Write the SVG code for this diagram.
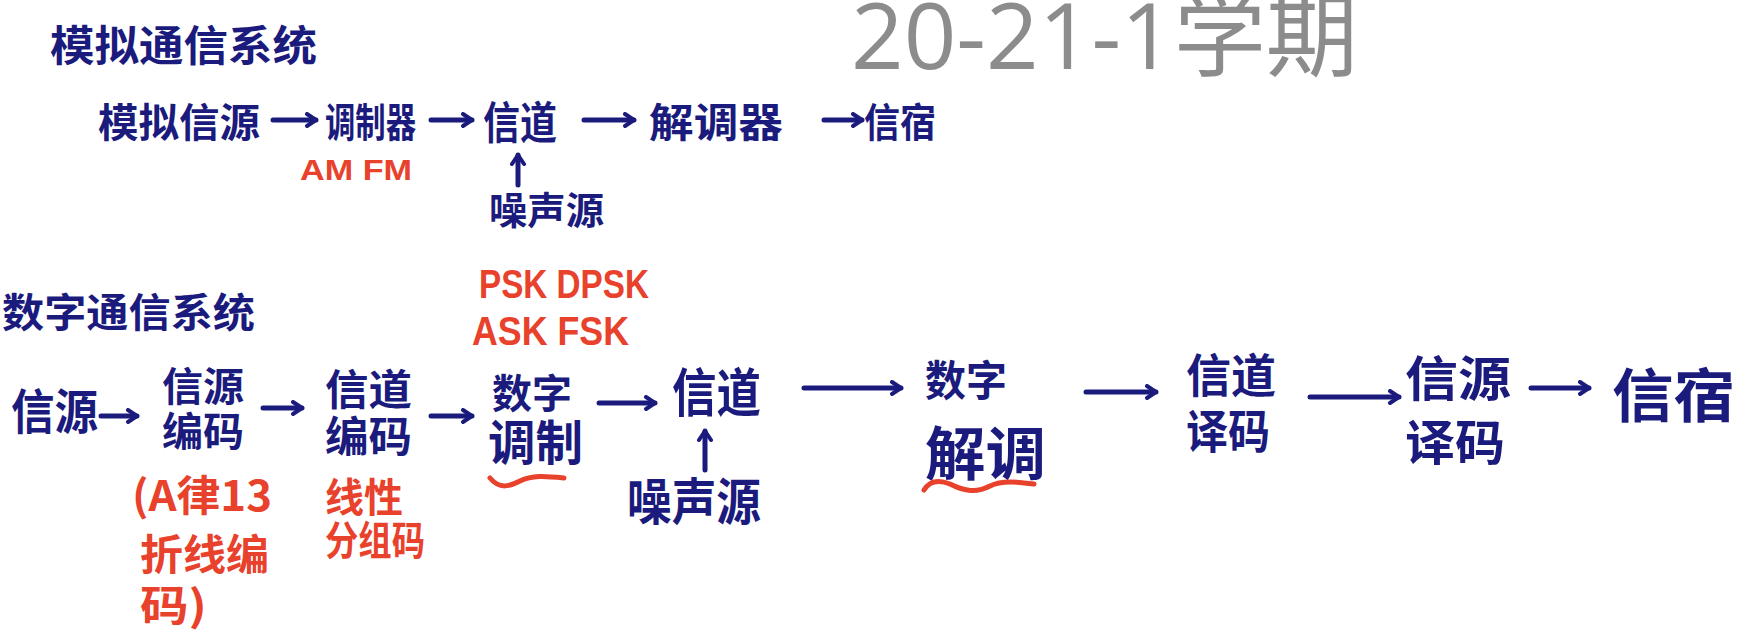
<svg xmlns="http://www.w3.org/2000/svg" width="1755" height="635" viewBox="0 0 1755 635">
<style>
.n{font-family:"Noto Sans CJK SC","Noto Sans CJK TC",sans-serif;font-weight:700;fill:#1b1b7d}
.r{font-family:"Noto Sans CJK SC","Noto Sans CJK TC",sans-serif;font-weight:700;fill:#e8412c}
.rl{font-family:"Liberation Sans","Noto Sans",sans-serif;font-weight:700;fill:#e8412c}
.t{font-family:"Open Sans","Noto Sans CJK SC",sans-serif;fill:#8c8c8c}
.c{stroke:#1b1b7d;stroke-width:5;fill:none;stroke-linecap:round}
.w{stroke:#e8412c;stroke-width:5;fill:none;stroke-linecap:round}
</style>
<defs>
<marker id="ah" markerUnits="userSpaceOnUse" viewBox="0 0 16 16" markerWidth="16" markerHeight="16" refX="13" refY="8" orient="auto">
<path d="M4,2 L13,8 L4,14" fill="none" stroke="#1b1b7d" stroke-width="4" stroke-linecap="round" stroke-linejoin="round"/>
</marker>
</defs>
<rect width="1755" height="635" fill="#ffffff"/>
<g id="title"><text class="t" x="851" y="69" font-size="92" textLength="507" lengthAdjust="spacingAndGlyphs">20-21-1学期</text></g>

<g id="analog-heading"><text class="n" x="50" y="61" font-size="42" textLength="267" lengthAdjust="spacingAndGlyphs">模拟通信系统</text></g>
<g id="a-src"><text class="n" x="98" y="137" font-size="40" textLength="162" lengthAdjust="spacingAndGlyphs">模拟信源</text></g>
<g id="a-mod"><text class="n" x="325" y="137" font-size="40" textLength="91" lengthAdjust="spacingAndGlyphs">调制器</text>
<text class="rl" x="300" y="180" font-size="30" textLength="112" lengthAdjust="spacingAndGlyphs">AM FM</text></g>
<g id="a-ch"><text class="n" x="483" y="139" font-size="44" textLength="74" lengthAdjust="spacingAndGlyphs">信道</text></g>
<g id="a-demod"><text class="n" x="649" y="137" font-size="40" textLength="134" lengthAdjust="spacingAndGlyphs">解调器</text></g>
<g id="a-sink"><text class="n" x="864" y="137" font-size="40" textLength="72" lengthAdjust="spacingAndGlyphs">信宿</text></g>
<g id="a-noise"><text class="n" x="489" y="224" font-size="38" textLength="115" lengthAdjust="spacingAndGlyphs">噪声源</text></g>

<g id="mod-notes">
<text class="rl" font-size="40"><tspan x="479" y="298" textLength="170" lengthAdjust="spacingAndGlyphs">PSK DPSK</tspan><tspan x="472" y="345" textLength="157" lengthAdjust="spacingAndGlyphs">ASK FSK</tspan></text>
</g>

<g id="digital-heading"><text class="n" x="2" y="327" font-size="40" textLength="253" lengthAdjust="spacingAndGlyphs">数字通信系统</text></g>
<g id="d-src"><text class="n" x="11" y="429" font-size="48" textLength="87" lengthAdjust="spacingAndGlyphs">信源</text></g>
<g id="d-srcenc"><text class="n" font-size="40"><tspan x="162" y="401" textLength="82" lengthAdjust="spacingAndGlyphs">信源</tspan><tspan x="162" y="446" textLength="82" lengthAdjust="spacingAndGlyphs">编码</tspan></text>
<text class="r" font-size="42"><tspan x="132" y="511" textLength="140" lengthAdjust="spacingAndGlyphs">(A律13</tspan><tspan x="140" y="570" textLength="129" lengthAdjust="spacingAndGlyphs">折线编</tspan><tspan x="140" y="621" textLength="67" lengthAdjust="spacingAndGlyphs">码)</tspan></text></g>
<g id="d-chenc"><text class="n" font-size="42"><tspan x="325" y="405" textLength="87" lengthAdjust="spacingAndGlyphs">信道</tspan><tspan x="325" y="452" textLength="87" lengthAdjust="spacingAndGlyphs">编码</tspan></text>
<text class="r" font-size="40"><tspan x="325" y="512" textLength="78" lengthAdjust="spacingAndGlyphs">线性</tspan><tspan x="325" y="555" textLength="100" lengthAdjust="spacingAndGlyphs">分组码</tspan></text></g>
<g id="d-mod"><text class="n" font-size="44"><tspan x="492" y="408" font-size="40" textLength="80" lengthAdjust="spacingAndGlyphs">数字</tspan><tspan x="488" y="460" font-size="48" textLength="95" lengthAdjust="spacingAndGlyphs">调制</tspan></text>
<path class="w" d="M490,478 C500,490 510,486 520,481 C532,475 545,476 564,478"/></g>
<g id="d-ch"><text class="n" x="672" y="412" font-size="52" textLength="89" lengthAdjust="spacingAndGlyphs">信道</text></g>
<g id="d-noise"><text class="n" x="627" y="520" font-size="50" textLength="134" lengthAdjust="spacingAndGlyphs">噪声源</text></g>
<g id="d-demod"><text class="n" font-size="50"><tspan x="925" y="396" font-size="42" textLength="82" lengthAdjust="spacingAndGlyphs">数字</tspan><tspan x="925" y="475" font-size="58" textLength="121" lengthAdjust="spacingAndGlyphs">解调</tspan></text>
<path class="w" d="M924,490 C930,480 940,480 950,484 C962,490 975,494 990,486 C1002,480 1018,482 1034,484"/></g>
<g id="d-chdec"><text class="n" font-size="46"><tspan x="1186" y="392" textLength="90" lengthAdjust="spacingAndGlyphs">信道</tspan><tspan x="1186" y="448" textLength="84" lengthAdjust="spacingAndGlyphs">译码</tspan></text></g>
<g id="d-srcdec"><text class="n" font-size="48"><tspan x="1405" y="396" textLength="106" lengthAdjust="spacingAndGlyphs">信源</tspan><tspan x="1405" y="460" textLength="100" lengthAdjust="spacingAndGlyphs">译码</tspan></text></g>
<g id="d-sink"><text class="n" x="1612" y="417" font-size="58" textLength="123" lengthAdjust="spacingAndGlyphs">信宿</text></g>

<g id="connectors">
<line class="c" x1="273" y1="120" x2="316" y2="120" marker-end="url(#ah)"/>
<line class="c" x1="431" y1="120" x2="472" y2="120" marker-end="url(#ah)"/>
<line class="c" x1="584" y1="120" x2="634" y2="120" marker-end="url(#ah)"/>
<line class="c" x1="824" y1="120" x2="862" y2="120" marker-end="url(#ah)"/>
<line class="c" x1="518" y1="185" x2="518" y2="155" marker-end="url(#ah)" stroke-width="3"/>
<line class="c" x1="101" y1="416" x2="137" y2="416" marker-end="url(#ah)"/>
<line class="c" x1="263" y1="408" x2="302" y2="408" marker-end="url(#ah)"/>
<line class="c" x1="431" y1="416" x2="472" y2="416" marker-end="url(#ah)"/>
<line class="c" x1="599" y1="403" x2="655" y2="403" marker-end="url(#ah)"/>
<line class="c" x1="705" y1="470" x2="705" y2="431" marker-end="url(#ah)" stroke-width="3"/>
<line class="c" x1="804" y1="388" x2="901" y2="388" marker-end="url(#ah)"/>
<line class="c" x1="1086" y1="392" x2="1156" y2="392" marker-end="url(#ah)"/>
<line class="c" x1="1310" y1="397" x2="1399" y2="397" marker-end="url(#ah)"/>
<line class="c" x1="1531" y1="388" x2="1589" y2="388" marker-end="url(#ah)"/>
</g>
</svg>
